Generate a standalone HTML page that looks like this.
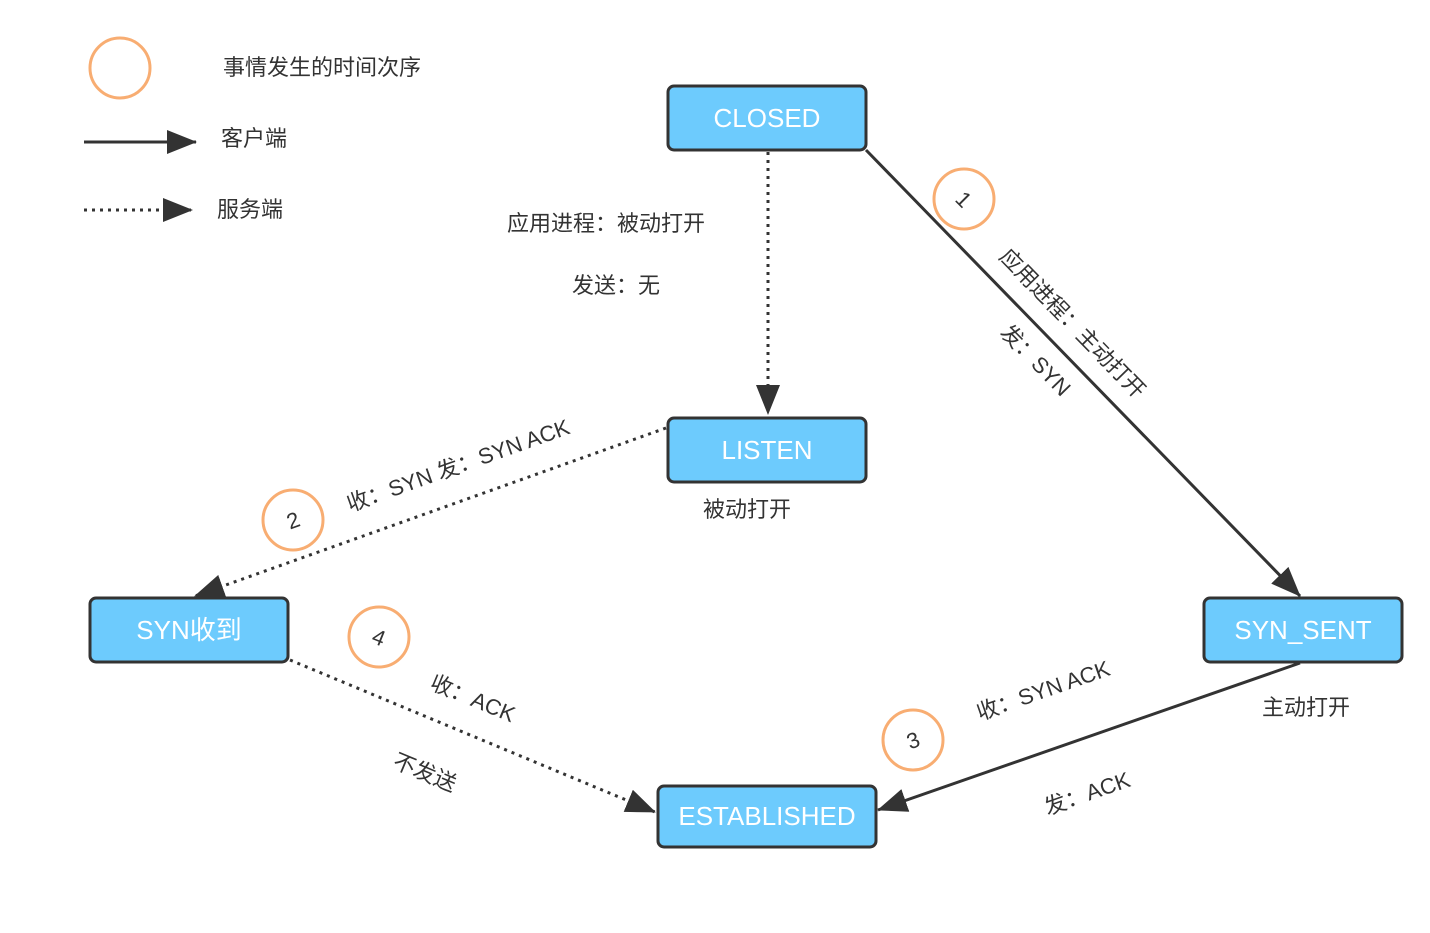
<!DOCTYPE html>
<html><head><meta charset="utf-8"><style>
body{margin:0;background:#fff}
svg text{font-family:"Liberation Sans","Noto Sans CJK SC",sans-serif;fill:#333}
</style></head><body>
<svg width="1430" height="928" xmlns="http://www.w3.org/2000/svg">
<defs>
<marker id="a" markerWidth="10" markerHeight="10" refX="9" refY="5" orient="auto" markerUnits="userSpaceOnUse" viewBox="0 0 10 10"><path d="M0,0 L10,5 L0,10 z" fill="#333"/></marker>
<marker id="b" markerWidth="30" markerHeight="24" refX="29" refY="12" orient="auto" markerUnits="userSpaceOnUse"><path d="M0,0 L30,12 L0,24 z" fill="#333"/></marker>
</defs>
<g fill="none" stroke="#f8ad72" stroke-width="3">
<circle cx="120" cy="68" r="30"/><circle cx="964" cy="199" r="30"/><circle cx="293" cy="520" r="30"/><circle cx="913" cy="740" r="30"/><circle cx="379" cy="637" r="30"/>
</g>
<g font-size="22">
<text x="223" y="75">事情发生的时间次序</text>
<text x="221" y="146">客户端</text>
<text x="217" y="217">服务端</text>
<text x="507" y="231">应用进程：被动打开</text>
<text x="572" y="293">发送：无</text>
<text x="703" y="517">被动打开</text>
<text x="1262" y="715">主动打开</text>
<text x="964" y="207" text-anchor="middle" transform="rotate(45 964 199)">1</text>
<text x="293" y="528" text-anchor="middle" transform="rotate(-20 293 520)">2</text>
<text x="913" y="748" text-anchor="middle" transform="rotate(-20 913 740)">3</text>
<text x="379" y="645" text-anchor="middle" transform="rotate(22 379 637)">4</text>
<text x="1073" y="331" text-anchor="middle" transform="rotate(45.8 1073 323)">应用进程：主动打开</text>
<text x="1036" y="368" text-anchor="middle" transform="rotate(45.8 1036 360)">发：SYN</text>
<text x="458" y="473" text-anchor="middle" transform="rotate(-19.6 458 465)">收：SYN 发：SYN ACK</text>
<text x="473" y="706" text-anchor="middle" transform="rotate(22.6 473 698)">收：ACK</text>
<text x="425" y="780" text-anchor="middle" transform="rotate(22.6 425 772)">不发送</text>
<text x="1043" y="698" text-anchor="middle" transform="rotate(-19.2 1043 690)">收：SYN ACK</text>
<text x="1087" y="801" text-anchor="middle" transform="rotate(-19.2 1087 793)">发：ACK</text>
</g>
<g stroke="#333" stroke-width="3" fill="none">
<line x1="84" y1="142" x2="196" y2="142" marker-end="url(#b)"/>
<line x1="84" y1="210" x2="192" y2="210" stroke-dasharray="3 5" marker-end="url(#b)"/>
<line x1="866" y1="150" x2="1300" y2="596" marker-end="url(#b)"/>
<line x1="768" y1="152" x2="768" y2="414" stroke-dasharray="3 5" marker-end="url(#b)"/>
<line x1="666" y1="428" x2="195" y2="596" stroke-dasharray="3 5" marker-end="url(#b)"/>
<line x1="1300" y1="663" x2="878" y2="810" marker-end="url(#b)"/>
<line x1="290" y1="660" x2="655" y2="812" stroke-dasharray="3 5" marker-end="url(#b)"/>
</g>
<g fill="#6dcbfd" stroke="#333" stroke-width="3">
<rect x="668" y="86" width="198" height="64" rx="6"/>
<rect x="668" y="418" width="198" height="64" rx="6"/>
<rect x="90" y="598" width="198" height="64" rx="6"/>
<rect x="1204" y="598" width="198" height="64" rx="6"/>
<rect x="658" y="786" width="218" height="61" rx="6"/>
</g>
<g font-size="26" text-anchor="middle" style="fill:#fff">
<text x="767" y="127" style="fill:#fff">CLOSED</text>
<text x="767" y="459" style="fill:#fff">LISTEN</text>
<text x="189" y="639" style="fill:#fff">SYN收到</text>
<text x="1303" y="639" style="fill:#fff">SYN_SENT</text>
<text x="767" y="825" style="fill:#fff">ESTABLISHED</text>
</g>
</svg>
</body></html>
